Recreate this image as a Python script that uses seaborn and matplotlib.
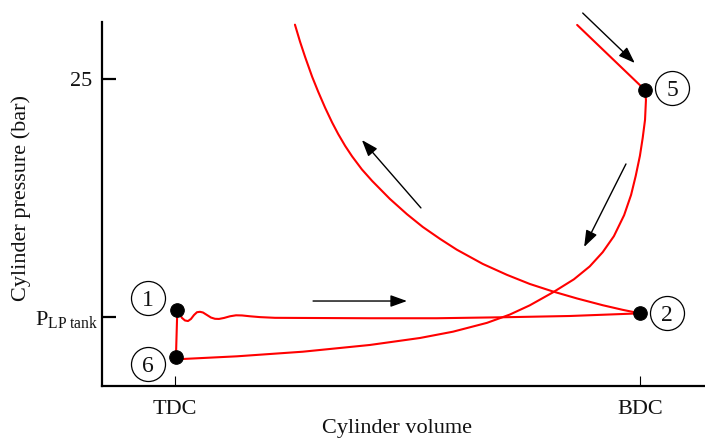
import matplotlib
matplotlib.use("Agg")
import matplotlib.pyplot as plt
import pandas as pd
import seaborn as sns

# Volume as fraction of stroke (TDC = 0, BDC = 1), pressure in bar
P_LP_TANK = 8.0
P_HIGH_TICK = 25.0

x_tick_pos = [0.0, 1.0]
x_tick_labels = ["TDC", "BDC"]
y_tick_pos = [P_LP_TANK, P_HIGH_TICK]
y_tick_labels = [r"P$_{\rm LP\ tank}$", "25"]

# 1 -> 2 : intake from the LP tank (with valve-opening ripple)
intake_v = [0.005, 0.0086, 0.0151, 0.0215, 0.0280, 0.0344, 0.0409, 0.0473,
            0.0538, 0.0602, 0.0688, 0.0774, 0.0860, 0.0946, 0.1054, 0.1183,
            0.1312, 0.1441, 0.1613, 0.1828, 0.2151, 0.276, 0.419, 0.563,
            0.706, 0.849, 1.0]
intake_p = [8.53, 8.29, 7.93, 7.75, 7.71, 7.86, 8.14, 8.34,
            8.37, 8.32, 8.14, 7.96, 7.87, 7.86, 7.93, 8.05,
            8.12, 8.11, 8.05, 7.99, 7.94, 7.93, 7.91, 7.91,
            7.98, 8.07, 8.26]

# 2 -> 3 : compression
compr_v = [1.0, 0.963, 0.920, 0.865, 0.813, 0.763, 0.714, 0.662, 0.606,
           0.570, 0.533, 0.499, 0.462, 0.424, 0.402, 0.381, 0.366, 0.351,
           0.338, 0.323, 0.308, 0.295, 0.280, 0.269, 0.258]
compr_p = [8.26, 8.51, 8.84, 9.32, 9.82, 10.36, 11.01, 11.79, 12.81,
           13.58, 14.43, 15.34, 16.44, 17.72, 18.54, 19.47, 20.22, 21.07,
           21.89, 22.94, 24.09, 25.16, 26.56, 27.66, 28.88]

# 4 -> 5 : filling from the HP side
fill_v = [0.865, 1.011]
fill_p = [28.86, 24.21]

# 5 -> 6 : expansion
expan_v = [1.011, 1.013, 1.011, 1.006, 1.000, 0.991, 0.981, 0.966, 0.944,
           0.920, 0.892, 0.858, 0.813, 0.763, 0.720, 0.671, 0.598, 0.527,
           0.419, 0.275, 0.133, 0.017, 0.002]
expan_p = [24.21, 23.50, 22.08, 20.79, 19.51, 18.08, 16.72, 15.27, 13.77,
           12.63, 11.61, 10.69, 9.76, 8.83, 8.17, 7.58, 6.95, 6.50,
           6.00, 5.52, 5.19, 5.00, 5.07]

# 6 -> 1 : inlet valve opening at TDC
valve_v = [0.002, 0.005]
valve_p = [5.11, 8.53]

# State points and their labels
state_names = ["1", "2", "5", "6"]
state_v = [0.005, 1.0, 1.011, 0.002]
state_p = [8.53, 8.26, 24.21, 5.11]
label_v = [-0.058, 1.058, 1.069, -0.058]
label_p = [9.36, 8.29, 24.36, 4.64]

# Direction arrows: tail and head positions
arrow_tail_v = [0.297, 0.529, 0.970, 0.877]
arrow_tail_p = [9.14, 15.79, 18.93, 29.71]
arrow_head_v = [0.499, 0.402, 0.880, 0.989]
arrow_head_p = [9.14, 20.64, 13.00, 26.14]

sns.set_theme(style="white")
plt.rcParams["font.family"] = ["Liberation Serif", "DejaVu Serif"]
plt.rcParams["mathtext.fontset"] = "custom"
plt.rcParams["mathtext.rm"] = "Liberation Serif"
plt.rcParams["mathtext.it"] = "Liberation Serif:italic"

fig = plt.figure(figsize=(7.05, 4.41), dpi=100)
ax = fig.add_axes([102 / 705, 1 - 386 / 441, 1 - 102 / 705, (386 - 22) / 441])

segments = [(intake_v, intake_p), (compr_v, compr_p), (fill_v, fill_p),
            (expan_v, expan_p), (valve_v, valve_p)]
for vv, pp in segments:
    df = pd.DataFrame({"V": vv, "p": pp})
    sns.lineplot(data=df, x="V", y="p", sort=False, estimator=None,
                 color="#ff0000", linewidth=1.5, solid_joinstyle="round",
                 solid_capstyle="round", ax=ax)

states = pd.DataFrame({"V": state_v, "p": state_p})
sns.scatterplot(data=states, x="V", y="p", color="black", s=95,
                edgecolor="black", zorder=5, ax=ax)

labels = pd.DataFrame({"V": label_v, "p": label_p})
sns.scatterplot(data=labels, x="V", y="p", s=600, facecolor="white",
                edgecolor="black", linewidth=0.9, zorder=4, ax=ax)
for name, lv, lp in zip(state_names, label_v, label_p):
    ax.text(lv, lp, name, ha="center", va="center_baseline", fontsize=17,
            color="#111111", zorder=6)

for tv, tp, hv, hp in zip(arrow_tail_v, arrow_tail_p, arrow_head_v, arrow_head_p):
    ax.annotate("", xy=(hv, hp), xytext=(tv, tp), annotation_clip=False,
                arrowprops=dict(arrowstyle="-|>,head_length=0.5,head_width=0.18",
                                mutation_scale=20, color="black", lw=1.0,
                                shrinkA=0, shrinkB=0))

ax.set_xlim(-0.157, 1.14)
ax.set_ylim(3.07, 29.07)
ax.set_xticks(x_tick_pos, x_tick_labels)
ax.set_yticks(y_tick_pos, y_tick_labels)
ax.tick_params(axis="y", left=True, direction="in", length=10, width=1.6, pad=7,
               labelsize=16, colors="black", labelcolor="#111111")
ax.tick_params(axis="x", bottom=True, direction="in", length=7.5, width=0.8, pad=10,
               labelsize=16, colors="black", labelcolor="#111111")
ax.yaxis.get_major_ticks()[0].set_pad(3)

for side in ("top", "right"):
    ax.spines[side].set_visible(False)
for side in ("left", "bottom"):
    ax.spines[side].set_linewidth(1.6)
    ax.spines[side].set_color("black")

ax.set_xlabel("Cylinder volume", fontsize=16, color="#111111")
ax.set_ylabel("Cylinder pressure (bar)", fontsize=16, color="#111111")
ax.xaxis.set_label_coords(0.489, -0.092)
ax.yaxis.set_label_coords(-0.117, 0.516)

fig.savefig("out.png", dpi=100)
